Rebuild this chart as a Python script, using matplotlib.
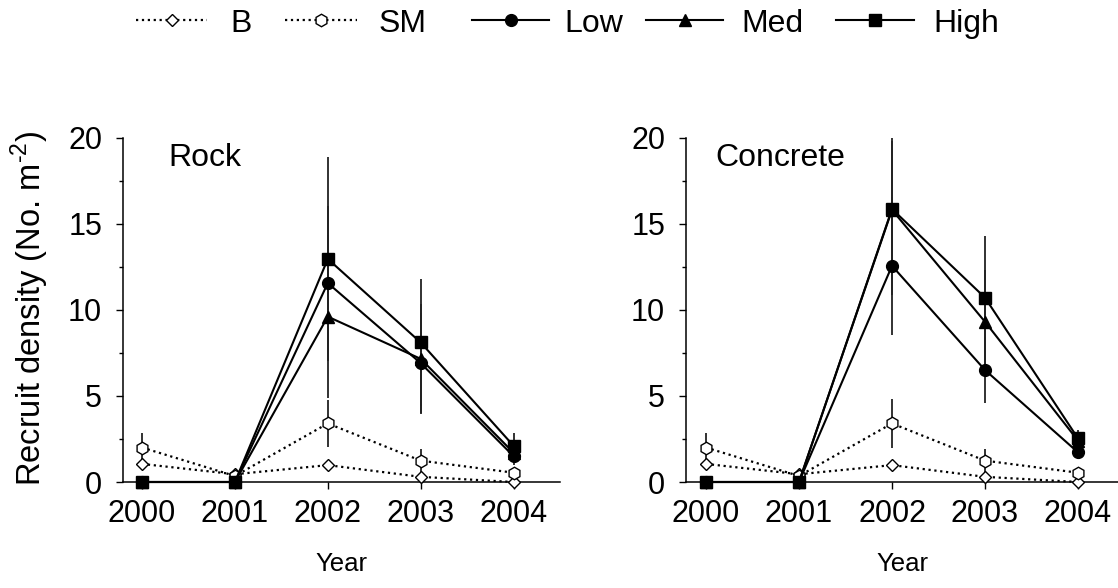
import matplotlib
matplotlib.use("Agg")
import matplotlib.pyplot as plt
from matplotlib.lines import Line2D

plt.rcParams['font.family'] = ['Liberation Sans', 'DejaVu Sans']
plt.rcParams['mathtext.fontset'] = 'custom'
plt.rcParams['mathtext.rm'] = 'Liberation Sans'

years = [2000, 2001, 2002, 2003, 2004]
year_labels = ['2000', '2001', '2002', '2003', '2004']
series_names = ['B', 'SM', 'Low', 'Med', 'High']

# Rock panel
rock_B = [1.05, 0.45, 0.98, 0.30, 0.0]
rock_SM = [2.0, 0.35, 3.40, 1.24, 0.54]
rock_SM_err = [0.86, 0.10, 1.38, 0.70, 0.20]
rock_Low = [0.0, 0.0, 11.55, 6.90, 1.50]
rock_Low_err = [0.0, 0.0, 4.5, 2.9, 0.5]
rock_Med = [0.0, 0.0, 9.60, 7.15, 1.70]
rock_Med_err = [0.0, 0.0, 4.75, 3.2, 0.4]
rock_High = [0.0, 0.0, 12.95, 8.10, 2.10]
rock_High_err = [0.0, 0.0, 5.9, 3.7, 0.75]

# Concrete panel
conc_B = [1.05, 0.45, 0.98, 0.30, 0.0]
conc_SM = [2.0, 0.35, 3.40, 1.24, 0.54]
conc_SM_err = [0.86, 0.10, 1.40, 0.70, 0.20]
conc_Low = [0.0, 0.0, 12.55, 6.50, 1.72]
conc_Low_err = [0.0, 0.0, 4.0, 1.9, 0.3]
conc_Med = [0.0, 0.0, 15.80, 9.30, 2.40]
conc_Med_err = [0.0, 0.0, 4.0, 3.0, 0.4]
conc_High = [0.0, 0.0, 15.85, 10.70, 2.53]
conc_High_err = [0.0, 0.0, 5.0, 3.6, 0.5]

W, H = 1118, 588
fig = plt.figure(figsize=(W / 100, H / 100), dpi=100)

def px_axes(x0, x1, ytop, ybot):
    return fig.add_axes([x0 / W, (H - ybot) / H, (x1 - x0) / W, (ybot - ytop) / H])

ax1 = px_axes(123, 560, 137.5, 482)
ax2 = px_axes(686, 1118, 137.5, 482)

styles = {
    'B': dict(ls=':', marker='D', ms=6.6, mfc='white', mec='black', mew=1.0, color='black', lw=1.6),
    'SM': dict(ls=':', marker='h', ms=9, mfc='white', mec='black', mew=1.0, color='black', lw=1.6),
    'Low': dict(ls='-', marker='o', ms=8.5, mfc='black', mec='black', color='black', lw=1.5),
    'Med': dict(ls='-', marker='^', ms=8.5, mfc='black', mec='black', color='black', lw=1.5),
    'High': dict(ls='-', marker='s', ms=8, mfc='black', mec='black', color='black', lw=1.5),
}

TICK_FS = 22

def draw(ax, B, SM, SMe, L, Le, M, Me, Hh, He, title, xlim, tx):
    for vals, errs in [(SM, SMe), (L, Le), (M, Me), (Hh, He)]:
        ax.errorbar(years, vals, yerr=errs, fmt='none', ecolor='#222222', elinewidth=1.3, capsize=0, zorder=1)
    ax.plot(years, B, clip_on=False, zorder=3, **styles['B'])
    ax.plot(years, SM, clip_on=False, zorder=3, **styles['SM'])
    ax.plot(years, M, clip_on=False, zorder=4, **styles['Med'])
    ax.plot(years, L, clip_on=False, zorder=4, **styles['Low'])
    ax.plot(years, Hh, clip_on=False, zorder=4, **styles['High'])
    ax.set_xlim(*xlim)
    ax.set_ylim(0, 20)
    ax.set_xticks(years)
    ax.set_xticklabels(year_labels)
    ax.set_yticks([0, 5, 10, 15, 20])
    ax.set_yticks([2.5, 7.5, 12.5, 17.5], minor=True)
    for s in ['top', 'right']:
        ax.spines[s].set_visible(False)
    for s in ['left', 'bottom']:
        ax.spines[s].set_linewidth(1.1)
    ax.tick_params(axis='both', which='major', direction='out', length=5, width=1.0, labelsize=TICK_FS)
    ax.tick_params(axis='x', which='major', pad=7)
    ax.tick_params(axis='y', which='major', pad=10)
    ax.tick_params(axis='y', which='minor', direction='out', length=3, width=1.0)
    ax.set_xlabel('Year', fontsize=18.5, labelpad=17)
    ax.text(tx, 0.985, title, transform=ax.transAxes, fontsize=23, va='top', ha='left')

draw(ax1, rock_B, rock_SM, rock_SM_err, rock_Low, rock_Low_err, rock_Med, rock_Med_err,
     rock_High, rock_High_err, 'Rock', (1999.795, 2004.5), 0.103)
draw(ax2, conc_B, conc_SM, conc_SM_err, conc_Low, conc_Low_err, conc_Med, conc_Med_err,
     conc_High, conc_High_err, 'Concrete', (1999.785, 2004.43), 0.069)

fig.text(30 / W, 1 - 308 / H, 'Recruit density (No. m$^{\\text{-}2}$)', fontsize=23.5,
         rotation=90, ha='center', va='center')

# Legend drawn manually in figure pixel positions
leg_handles = [(136, 207, 230), (285, 357, 379), (472, 549, 564), (646, 723, 741), (836, 914, 933)]
ly = 1 - 20 / H
for name, (hx0, hx1, tx) in zip(series_names, leg_handles):
    st = dict(styles[name])
    marker = st.pop('marker'); ms = st.pop('ms'); mfc = st.pop('mfc'); mec = st.pop('mec')
    mew = st.pop('mew', 1.0)
    fig.add_artist(Line2D([hx0 / W, hx1 / W], [ly, ly], transform=fig.transFigure,
                          ls=st['ls'], color='black', lw=st['lw']))
    fig.add_artist(Line2D([(hx0 + hx1) / 2 / W], [ly], transform=fig.transFigure,
                          ls='none', marker=marker, ms=ms, mfc=mfc, mec=mec, mew=mew))
    fig.text(tx / W, 1 - 32 / H, name, fontsize=23, ha='left', va='baseline')

fig.savefig('out.png', dpi=100)
